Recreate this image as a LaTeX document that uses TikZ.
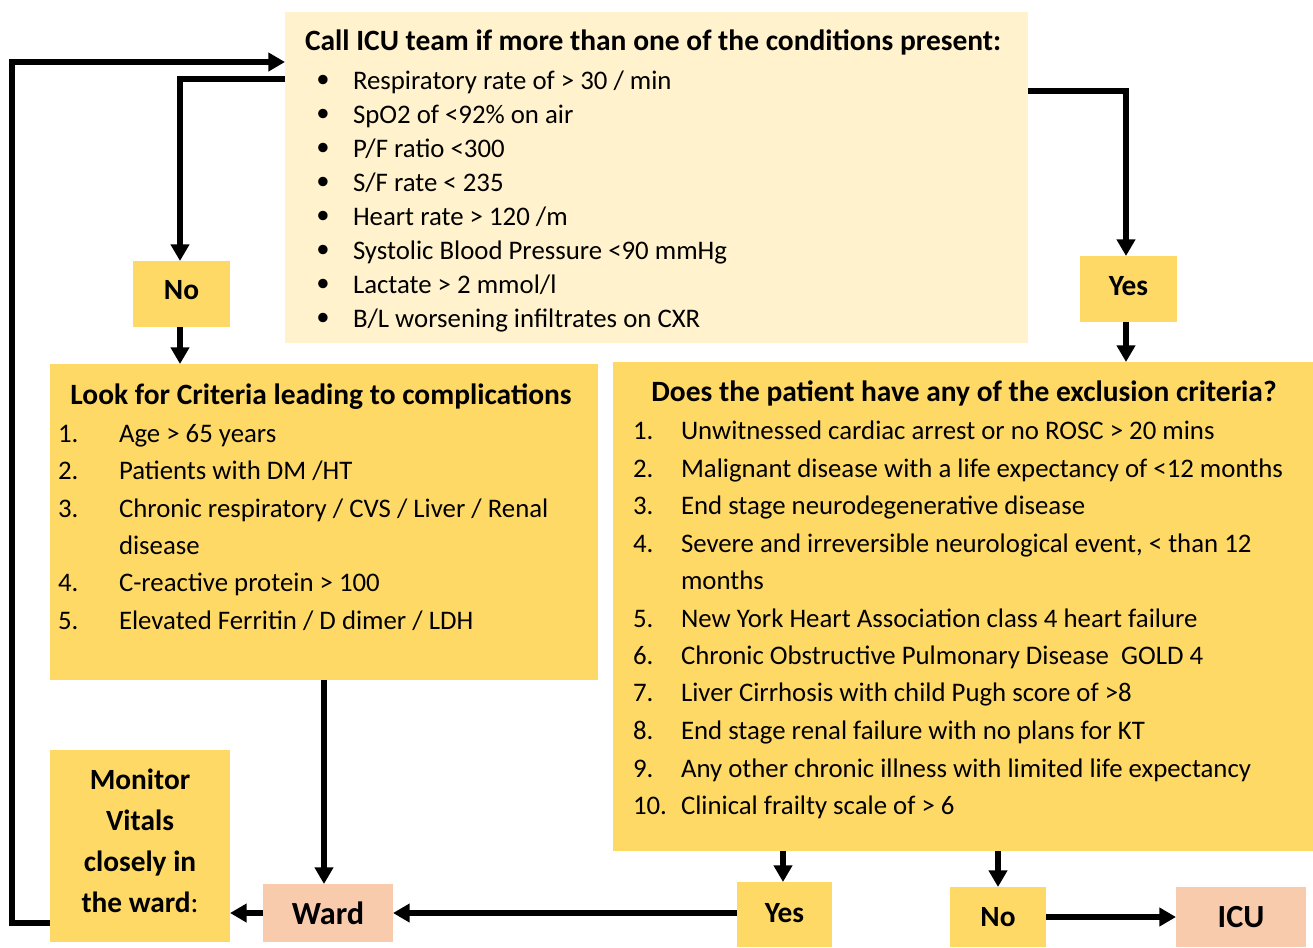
\documentclass[tikz,border=0pt]{standalone}
\usepackage{fontspec}
\setmainfont{Carlito}
\usetikzlibrary{arrows.meta}
\definecolor{cream}{HTML}{FFF2CC}
\definecolor{gold}{HTML}{FFD966}
\definecolor{peach}{HTML}{F8CBAD}
\begin{document}
\begin{tikzpicture}[x=0.75pt,y=-0.75pt,
  box/.style={inner sep=0pt,outer sep=0pt,draw=none},
  bfont/.style={font=\fontsize{22}{26}\selectfont\bfseries},
  big/.style={font=\fontsize{24.2}{28}\selectfont\bfseries},
  txt/.style={inner sep=0pt,outer sep=0pt,anchor=base west,font=\fontsize{20.1}{24}\selectfont},
  ttl/.style={inner sep=0pt,outer sep=0pt,font=\fontsize{22.1}{26}\selectfont\bfseries},
  conn/.style={line width=4.1pt,-{Triangle[length=12.5pt,width=13.5pt]}}]
\useasboundingbox (0,0) rectangle (1313,947);
% boxes
\node[box,fill=cream,anchor=north west,minimum width=557.25pt,minimum height=248.25pt] (top) at (285,12) {};
\node[box,fill=gold,anchor=north west,minimum width=72.75pt,minimum height=49.5pt,bfont,text depth=6pt] (noA) at (133,261) {No};
\node[box,fill=gold,anchor=north west,minimum width=72.75pt,minimum height=49.5pt,bfont,text depth=5pt] (yesA) at (1080,256) {Yes};
\node[box,fill=gold,anchor=north west,minimum width=411pt,minimum height=237pt] (crit) at (50,364) {};
\node[box,fill=gold,anchor=north west,minimum width=525pt,minimum height=366.75pt] (excl) at (613,362) {};
\node[box,fill=gold,anchor=north west,minimum width=135pt,minimum height=144pt] (mon) at (50,750) {};
\node[box,fill=peach,anchor=north west,minimum width=97.5pt,minimum height=43.5pt,big] (ward) at (263,884) {Ward};
\node[box,fill=gold,anchor=north west,minimum width=71.25pt,minimum height=48.75pt,bfont,text depth=3pt] (yesB) at (737,882) {Yes};
\node[box,fill=gold,anchor=north west,minimum width=72pt,minimum height=45pt,bfont] (noB) at (950,887) {No};
\node[box,fill=peach,anchor=north west,minimum width=97.5pt,minimum height=45pt,big] (icu) at (1176,887) {ICU};
% top box text
\node[ttl,anchor=base west] (topT) at (305,50) {Call ICU team if more than one of the conditions present:};
\foreach \t [count=\i] in {Respiratory rate of > 30 / min, SpO2 of <92\% on air, P/F ratio <300, S/F rate < 235, Heart rate > 120 /m, Systolic Blood Pressure <90 mmHg, Lactate > 2 mmol/l, B/L worsening infiltrates on CXR}{
  \node[inner sep=0pt,font=\fontsize{20}{24}\selectfont] (tb\i) at (323,{81+(\i-1)*34}) {\textbullet};
  \node[txt] (tt\i) at (353,{89+(\i-1)*34}) {\t};
}
% criteria box text
\node[ttl,anchor=base] (critT) at (321,404) {Look for Criteria leading to complications};
\foreach \n/\y/\t in {1./434/{Age > 65 years}, 2./471/{Patients with DM /HT}, 3./509/{Chronic respiratory / CVS / Liver / Renal}, /546/disease, 4./583/{C-reactive protein > 100}, 5./621/{Elevated Ferritin / D dimer / LDH}}{
  \node[txt] (cn\y) at (58,\y+8) {\n};
  \node[txt] (ct\y) at (119,\y+8) {\t};
}
% exclusion box text
\node[ttl,anchor=base] (exclT) at (964,401) {Does the patient have any of the exclusion criteria?};
\foreach \n/\y/\t in {1./431/{Unwitnessed cardiac arrest or no ROSC > 20 mins}, 2./469/{Malignant disease with a life expectancy of <12 months}, 3./506/{End stage neurodegenerative disease}, 4./544/{Severe and irreversible neurological event, < than 12}, /581/months, 5./619/{New York Heart Association class 4 heart failure}, 6./656/{Chronic Obstructive Pulmonary Disease\ \ GOLD 4}, 7./693/{Liver Cirrhosis with child Pugh score of >8}, 8./731/{End stage renal failure with no plans for KT}, 9./769/{Any other chronic illness with limited life expectancy}, 10./806/{Clinical frailty scale of > 6}}{
  \node[txt] (en\y) at (633,\y+8) {\n};
  \node[txt] (et\y) at (681,\y+8) {\t};
}
% monitor text
\foreach \t/\y in {Monitor/780, Vitals/821, closely in/862, {the ward\mdseries:}/903}{
  \node[inner sep=0pt,anchor=base,bfont] (m\y) at (140,\y+9) {\t};
}
% connectors
\coordinate (l1) at (12,923);
\coordinate (l2) at (12,62);
\draw[conn] (mon.west |- l1) -- (l1) -- (l2) -- (top.west |- l2);
\coordinate (c2) at (180,79);
\draw[conn] (top.west |- c2) -- (c2) -- (c2 |- noA.north);
\draw[conn] (noA.south -| c2) -- (c2 |- crit.north);
\coordinate (c4) at (1126,91);
\draw[conn] (top.east |- c4) -- (c4) -- (c4 |- yesA.north);
\draw[conn] (yesA.south -| c4) -- (c4 |- excl.north);
\coordinate (c6) at (324,700);
\draw[conn] (crit.south -| c6) -- (c6 |- ward.north);
\draw[conn] (ward.west) -- (mon.east |- ward.west);
\draw[conn] (yesB.west |- ward.east) -- (ward.east);
\coordinate (c9) at (783,860);
\draw[conn] (excl.south -| c9) -- (c9 |- yesB.north);
\coordinate (c10) at (998,860);
\draw[conn] (excl.south -| c10) -- (c10 |- noB.north);
\draw[conn] (noB.east) -- (icu.west);
\end{tikzpicture}
\end{document}
